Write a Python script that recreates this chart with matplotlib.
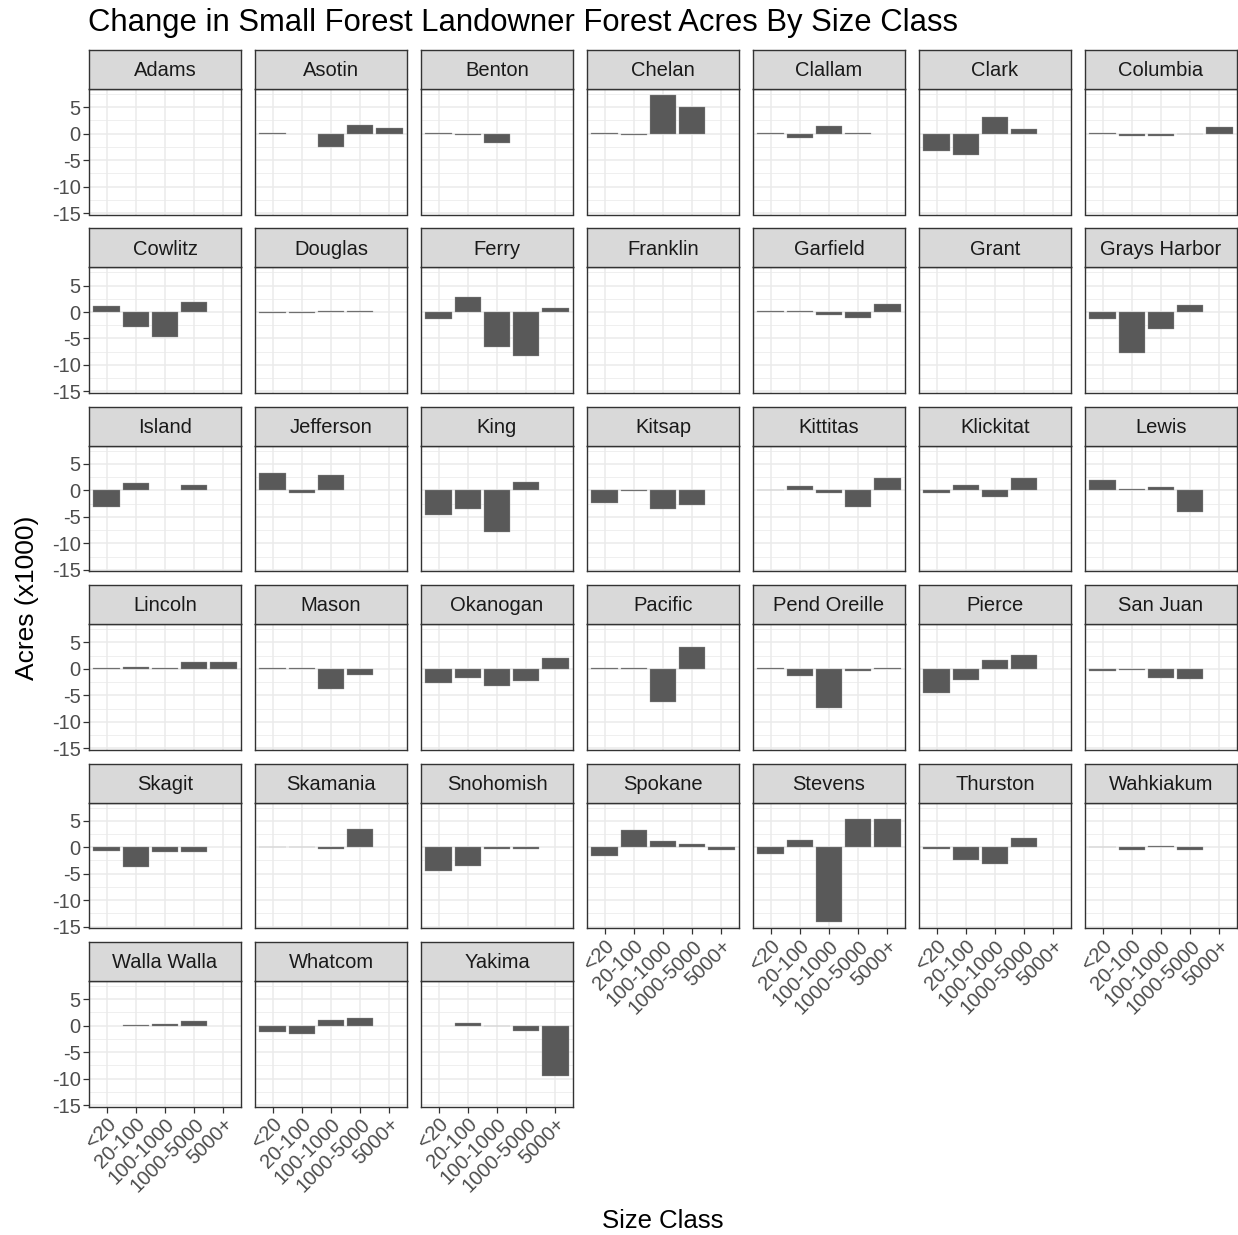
import numpy as np
import matplotlib
matplotlib.use("Agg")
import matplotlib.pyplot as plt

plt.rcParams["font.family"] = ["Liberation Sans", "DejaVu Sans"]

counties = [
    "Adams", "Asotin", "Benton", "Chelan", "Clallam", "Clark", "Columbia",
    "Cowlitz", "Douglas", "Ferry", "Franklin", "Garfield", "Grant", "Grays Harbor",
    "Island", "Jefferson", "King", "Kitsap", "Kittitas", "Klickitat", "Lewis",
    "Lincoln", "Mason", "Okanogan", "Pacific", "Pend Oreille", "Pierce", "San Juan",
    "Skagit", "Skamania", "Snohomish", "Spokane", "Stevens", "Thurston", "Wahkiakum",
    "Walla Walla", "Whatcom", "Yakima",
]
size_classes = ["<20", "20-100", "100-1000", "1000-5000", "5000+"]

N = None
# change in acres (x1000), one list per size class, in county order
class_lt20 = [N, 0.1, 0.1, 0.12, 0.1, -3.3, 0.12,
              1.05, -0.1, -1.35, N, 0.1, N, -1.3,
              -3.15, 3.2, -4.6, -2.4, 0.1, -0.4, 1.9,
              0.1, 0.1, -2.7, 0.1, 0.1, -4.6, -0.5,
              -0.65, 0.1, -4.55, -1.7, -1.25, -0.3, 0.1,
              N, -1.3, N]
class_20_100 = [N, N, -0.35, -0.2, -0.9, -4.1, -0.45,
                -2.9, -0.1, 2.8, N, 0.1, N, -7.75,
                1.4, -0.4, -3.6, -0.2, 0.9, 1.0, 0.25,
                0.35, 0.1, -1.8, 0.1, -1.4, -2.2, -0.2,
                -3.65, 0.1, -3.6, 3.2, 1.35, -2.4, -0.55,
                0.1, -1.6, 0.5]
class_100_1000 = [N, -2.5, -1.7, 7.35, 1.4, 3.1, -0.5,
                  -4.7, 0.1, -6.6, N, -0.6, N, -3.2,
                  N, 3.0, -7.8, -3.5, -0.5, -1.2, 0.6,
                  0.1, -3.75, -3.3, -6.2, -7.45, 1.65, -1.65,
                  -0.9, -0.4, -0.35, 1.15, -14.2, -3.15, 0.3,
                  0.35, 1.05, -0.1]
class_1000_5000 = [N, 1.65, N, 5.0, 0.12, 0.8, -0.1,
                   1.9, 0.1, -8.35, N, -1.1, N, 1.4,
                   1.1, N, 1.65, -2.7, -3.1, 2.4, -4.0,
                   1.25, -1.25, -2.35, 4.1, -0.5, 2.65, -2.0,
                   -0.9, 3.45, -0.3, 0.6, 5.4, 1.7, -0.5,
                   0.8, 1.4, -1.05]
class_5000_plus = [N, 1.05, N, N, N, N, 1.3,
                   N, N, 0.85, N, 1.45, N, N,
                   N, N, N, N, 2.3, N, N,
                   1.25, N, 2.0, N, 0.1, N, N,
                   N, N, N, -0.6, 5.3, N, N,
                   N, N, -9.55]

series = [class_lt20, class_20_100, class_100_1000, class_1000_5000, class_5000_plus]

W, H = 1238, 1235
fig = plt.figure(figsize=(W / 100, H / 100), dpi=100)
fig.patch.set_facecolor("white")

ncol = 7
panel_w = 152
col_pitch = 166
left0 = 89
strip_top0 = 50
row_pitch = 178.4
strip_h = 39
panel_h = 125.5

dark = "#333333"
grid_c = "#EBEBEB"
bar_c = "#595959"
fs_tick = 14.5
fs_strip = 14.5

all_vals = [v for s in series for v in s if v is not None] + [0]
lo, hi = min(all_vals), max(all_vals)
span = hi - lo
ylim = (lo - 0.05 * span, hi + 0.05 * span)

n = len(counties)
x = np.arange(len(size_classes))


def fig_box(px_left, px_top, px_w, px_h):
    return [px_left / W, 1 - (px_top + px_h) / H, px_w / W, px_h / H]


for i, county in enumerate(counties):
    r, c = divmod(i, ncol)
    px_left = left0 + c * col_pitch
    px_strip = strip_top0 + r * row_pitch
    ax = fig.add_axes(fig_box(px_left, px_strip + strip_h, panel_w, panel_h))
    ax.set_facecolor("white")
    ax.set_xlim(-0.6, len(size_classes) - 0.4)
    ax.set_ylim(*ylim)

    # panel grid
    ax.set_yticks([-15, -10, -5, 0, 5])
    ax.set_yticks([-12.5, -7.5, -2.5, 2.5, 7.5], minor=True)
    ax.set_xticks(x)
    ax.grid(True, which="major", color=grid_c, linewidth=1.1, zorder=0)
    ax.grid(True, which="minor", axis="y", color=grid_c, linewidth=0.55, zorder=0)
    ax.set_axisbelow(True)

    vals = [s[i] for s in series]
    xs = [xi for xi, v in zip(x, vals) if v is not None]
    hs = [v for v in vals if v is not None]
    if hs:
        ax.bar(xs, hs, width=0.9, color=bar_c, edgecolor="#9A9A9A",
               linewidth=0.25, zorder=2)

    for sp in ax.spines.values():
        sp.set_color(dark)
        sp.set_linewidth(1.0)

    # tick labels only on outer panels
    show_y = c == 0
    show_x = i + ncol >= n
    ax.tick_params(axis="both", which="major", color=dark, length=4, width=0.9,
                   labelsize=fs_tick, labelcolor="#4D4D4D", pad=2)
    ax.tick_params(axis="both", which="minor", length=0)
    if show_y:
        ax.set_yticklabels(["-15", "-10", "-5", "0", "5"])
    else:
        ax.tick_params(axis="y", which="major", length=0, labelleft=False)
    if show_x:
        ax.set_xticklabels(size_classes, rotation=45, ha="right", va="top",
                           rotation_mode="anchor")
    else:
        ax.tick_params(axis="x", which="major", length=0, labelbottom=False)

    # facet strip
    sax = fig.add_axes(fig_box(px_left, px_strip, panel_w, strip_h))
    sax.set_xticks([])
    sax.set_yticks([])
    sax.set_facecolor("#D9D9D9")
    for sp in sax.spines.values():
        sp.set_color(dark)
        sp.set_linewidth(1.0)
    sax.text(0.5, 0.47, county, ha="center", va="center", fontsize=fs_strip,
             color="#1A1A1A", transform=sax.transAxes)

fig.text(88 / W, 1 - 31 / H, "Change in Small Forest Landowner Forest Acres By Size Class",
         ha="left", va="baseline", fontsize=22.3, color="black")
fig.text(27 / W, 1 - 598 / H, "Acres (x1000)", rotation=90, ha="center", va="center",
         fontsize=19, color="black")
fig.text(663 / W, 1 - 1228 / H, "Size Class", ha="center", va="baseline",
         fontsize=18.5, color="black")

fig.savefig("out.png", dpi=100, facecolor="white")
